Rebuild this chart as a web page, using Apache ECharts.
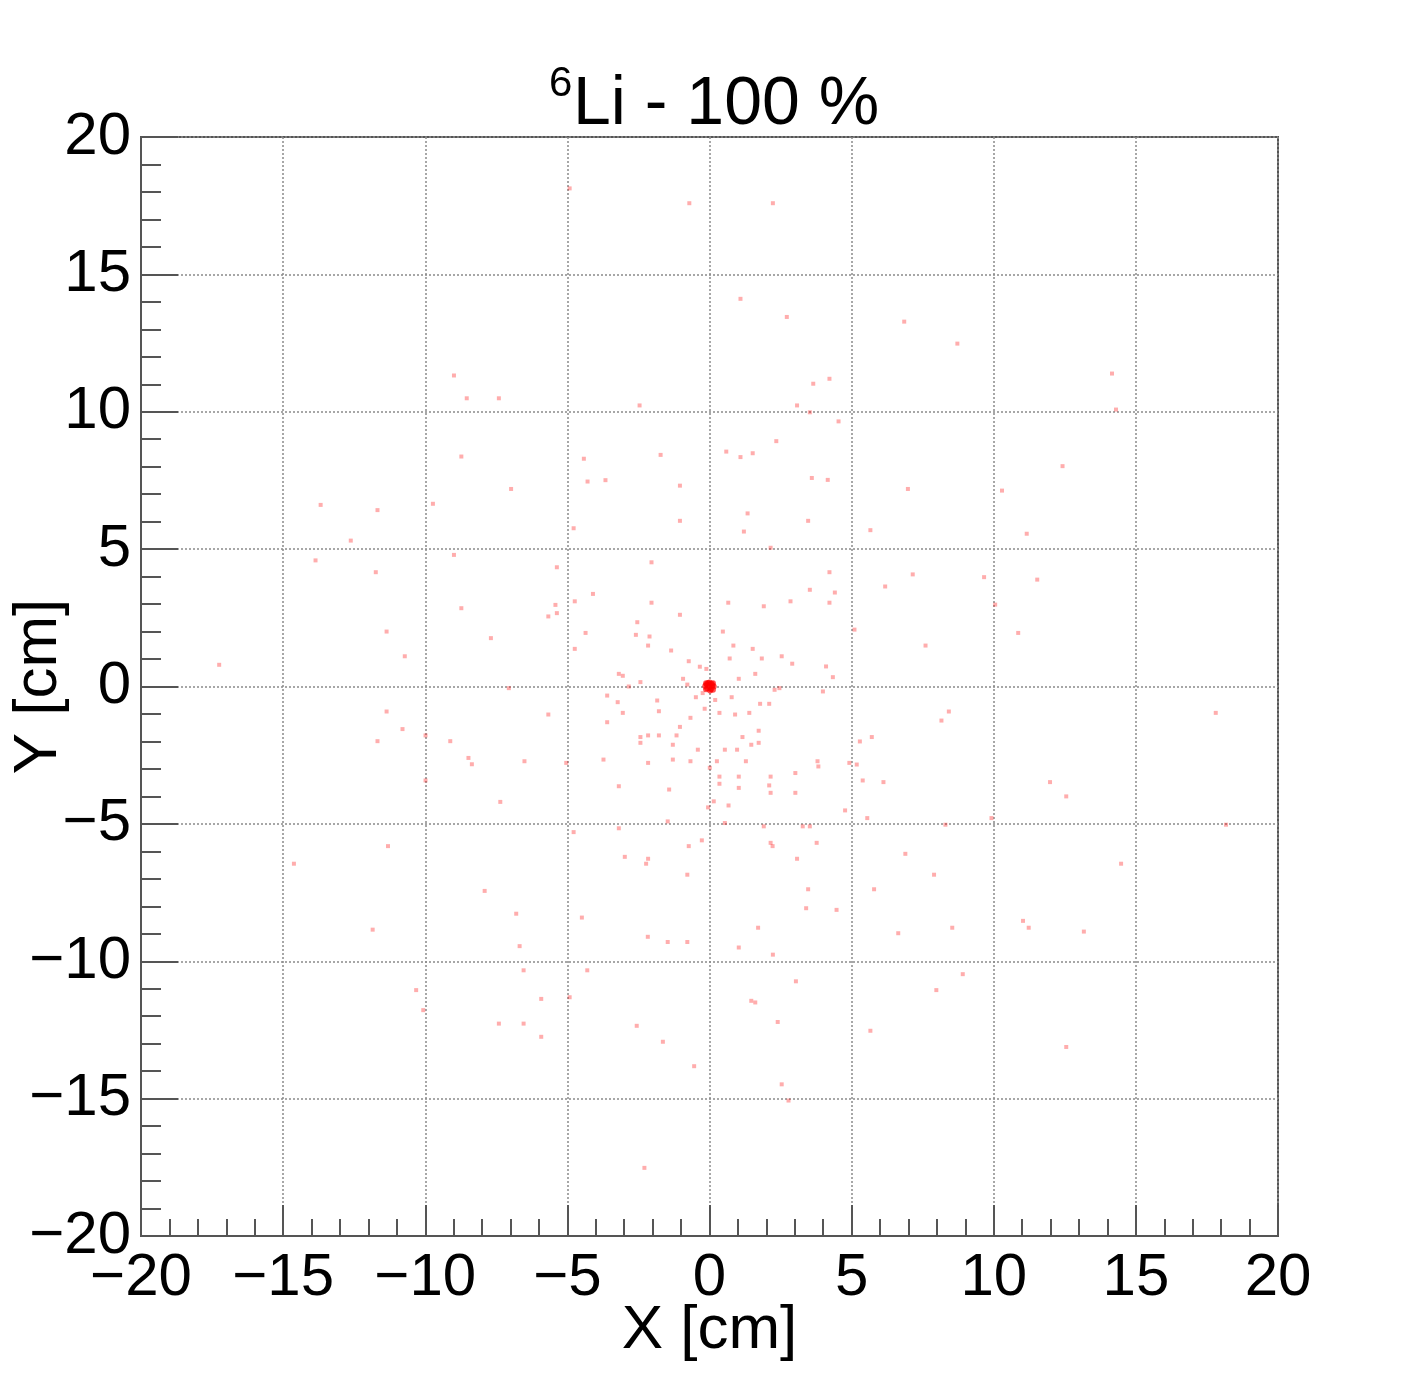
<!DOCTYPE html>
<html>
<head>
<meta charset="utf-8">
<title>6Li - 100 %</title>
<script src="https://cdn.jsdelivr.net/npm/echarts@6/dist/echarts.min.js"></script>
<style>
    html, body { margin: 0; padding: 0; background: #fff; }
    #chart { width: 1420px; height: 1374px; }
</style>
</head>
<body>
<div id="chart"></div>
<script>
// hit positions [x, y] in cm
var hits = [
    [-4.92, 18.13], [-0.71, 17.59], [2.23, 17.59], [1.09, 14.11], [2.72, 13.45],
    [6.85, 13.28], [8.72, 12.48], [-8.99, 11.32], [-8.54, 10.49], [-7.41, 10.49],
    [-2.46, 10.23], [3.08, 10.23], [3.65, 11.02], [4.22, 11.2], [3.53, 9.98],
    [4.54, 9.65], [14.16, 11.39], [14.3, 10.08], [2.35, 8.93], [0.59, 8.55],
    [1.09, 8.35], [1.52, 8.49], [-4.42, 8.29], [-1.72, 8.43], [-8.73, 8.37],
    [12.42, 8.02], [-4.29, 7.46], [-3.66, 7.51], [-1.04, 7.31], [3.6, 7.59],
    [4.16, 7.52], [-6.98, 7.19], [6.98, 7.19], [10.29, 7.13], [-9.73, 6.65],
    [-13.68, 6.61], [-11.68, 6.42], [1.34, 6.3], [3.47, 6.03], [-1.04, 6.03],
    [-4.78, 5.76], [1.21, 5.64], [5.66, 5.69], [11.16, 5.56], [-12.62, 5.31],
    [2.15, 5.05], [-8.99, 4.79], [-13.86, 4.59], [-2.04, 4.52], [-5.37, 4.34],
    [4.22, 4.16], [-11.74, 4.16], [7.15, 4.08], [9.66, 3.98], [11.53, 3.89],
    [6.18, 3.64], [3.53, 3.52], [4.41, 3.42], [-4.1, 3.37], [-4.74, 3.1],
    [-5.42, 2.97], [-2.04, 3.05], [0.66, 3.05], [1.91, 2.92], [2.85, 3.1],
    [4.22, 3.05], [10.05, 2.98], [-8.73, 2.85], [-5.37, 2.67], [-5.67, 2.55],
    [-1.04, 2.61], [-2.54, 2.34], [5.1, 2.07], [0.47, 2.0], [-11.36, 2.0],
    [10.86, 1.95], [-2.59, 1.88], [-2.11, 1.82], [-4.36, 1.95], [-7.69, 1.76],
    [-2.16, 1.49], [0.84, 1.49], [7.6, 1.49], [1.52, 1.37], [-4.74, 1.37],
    [-1.35, 1.31], [-10.72, 1.1], [0.71, 1.02], [1.84, 1.02], [2.54, 1.1],
    [2.91, 0.83], [-0.73, 0.92], [-17.25, 0.79], [-0.34, 0.72], [-0.11, 0.64],
    [1.61, 0.46], [4.1, 0.73], [4.34, 0.34], [-3.19, 0.46], [-3.05, 0.39],
    [-2.43, 0.16], [-0.93, 0.28], [1.03, 0.28], [-0.78, 0.07], [-2.84, 0.0],
    [-7.06, -0.06], [2.46, -0.06], [2.29, -0.12], [3.99, -0.18], [-0.24, -0.24],
    [-0.48, -0.39], [0.2, -0.49], [0.78, -0.39], [-3.6, -0.33], [-3.23, -0.57],
    [-1.84, -0.51], [-0.17, -0.81], [1.78, -0.63], [2.1, -0.63], [-3.05, -0.96],
    [-1.78, -0.9], [0.35, -0.96], [0.9, -1.02], [1.4, -0.96], [-5.67, -1.02],
    [-11.36, -0.91], [8.42, -0.91], [8.16, -1.24], [17.81, -0.96], [-0.67, -1.14],
    [-3.6, -1.3], [-1.04, -1.47], [-10.8, -1.55], [1.73, -1.61], [1.16, -1.84],
    [1.47, -2.12], [1.73, -2.05], [-2.43, -1.84], [-2.16, -1.78], [-1.78, -1.78],
    [-1.16, -1.78], [-9.99, -1.78], [-11.68, -1.99], [-9.12, -1.99], [-2.43, -2.05],
    [-1.29, -2.12], [-0.41, -2.3], [0.54, -2.3], [0.97, -2.3], [5.29, -2.0],
    [5.71, -1.84], [-8.48, -2.6], [-8.36, -2.83], [-3.73, -2.66], [-1.29, -2.66],
    [-0.67, -2.72], [0.26, -2.72], [1.28, -2.72], [-2.16, -2.78], [-5.04, -2.78],
    [-6.51, -2.72], [3.8, -2.72], [3.83, -2.91], [4.92, -2.78], [5.18, -2.84],
    [0.01, -2.96], [0.35, -3.28], [1.03, -3.28], [2.15, -3.28], [3.02, -3.15],
    [-9.99, -3.42], [0.35, -3.54], [1.03, -3.69], [2.1, -3.6], [5.39, -3.42],
    [6.12, -3.48], [11.98, -3.48], [-3.19, -3.63], [-1.42, -3.75], [2.15, -3.87],
    [3.02, -3.87], [12.55, -4.0], [-7.36, -4.2], [0.15, -4.18], [0.67, -4.33],
    [-0.05, -4.4], [4.77, -4.51], [5.55, -4.79], [9.92, -4.79], [-1.47, -4.91],
    [0.54, -4.97], [1.91, -5.09], [3.28, -5.09], [3.53, -5.09], [8.3, -5.03],
    [18.17, -5.03], [-3.19, -5.16], [-4.78, -5.3], [-0.27, -5.6], [-0.73, -5.81],
    [2.15, -5.69], [2.22, -5.81], [3.77, -5.69], [-11.31, -5.81], [6.89, -6.09],
    [-2.98, -6.2], [-2.16, -6.27], [-2.23, -6.45], [3.08, -6.27], [-14.62, -6.45],
    [14.48, -6.45], [-0.78, -6.85], [7.9, -6.85], [3.47, -7.38], [5.79, -7.38],
    [-7.91, -7.44], [3.4, -8.07], [4.47, -8.13], [-6.8, -8.27], [-4.49, -8.41],
    [11.03, -8.53], [1.71, -8.78], [8.54, -8.78], [11.23, -8.78], [-11.85, -8.85],
    [6.64, -8.98], [13.17, -8.92], [-2.17, -9.11], [-1.47, -9.3], [-0.78, -9.3],
    [-6.68, -9.45], [1.03, -9.5], [2.23, -9.76], [-6.54, -10.33], [-4.3, -10.33],
    [8.91, -10.47], [3.04, -10.73], [-10.32, -11.05], [7.98, -11.05], [-5.92, -11.37],
    [-4.92, -11.31], [1.47, -11.44], [1.61, -11.5], [-10.07, -11.78], [-7.41, -12.27],
    [-6.54, -12.27], [-2.56, -12.35], [2.4, -12.21], [5.66, -12.53], [-5.92, -12.75],
    [-1.64, -12.93], [12.55, -13.12], [-0.54, -13.82], [2.54, -14.48], [2.78, -15.07],
    [-2.29, -17.52]
];

// the dense spot of hits right at the origin
var originHits = [
    [0, 0], [0.1, 0.05], [-0.1, 0.08], [0.05, -0.1], [-0.08, -0.06],
    [0.15, 0.0], [-0.15, 0.02], [0.0, 0.15], [0.02, -0.15], [0.12, 0.12],
    [-0.12, 0.12], [0.12, -0.12], [-0.12, -0.1], [0.07, 0.1], [-0.05, 0.13]
];

var axisTicks = { min: -20, max: 20, interval: 5 };

function rootMinus(v) {
    return String(v).replace('-', '\u2212');
}

var chart = echarts.init(document.getElementById('chart'));

var font = 'Liberation Sans, Arial, Helvetica, sans-serif';

function axisBase(name) {
    return {
        type: 'value',
        min: axisTicks.min,
        max: axisTicks.max,
        interval: axisTicks.interval,
        name: name,
        nameLocation: 'middle',
        nameMoveOverlap: false,
        nameTextStyle: { fontFamily: font, fontSize: 62, color: '#000' },
        axisLine: { show: true, onZero: false, lineStyle: { color: '#555', width: 2 } },
        axisTick: { show: true, inside: true, lineStyle: { color: '#555', width: 2 } },
        minorTick: { show: true, splitNumber: 5, lineStyle: { color: '#555', width: 2 } },
        splitLine: { show: true, lineStyle: { color: '#8a8a8a', width: 1.5, type: [2, 2] } },
        axisLabel: {
            fontFamily: font,
            fontSize: 60,
            color: '#000',
            formatter: rootMinus
        }
    };
}

var xAxis = axisBase('X [cm]');
xAxis.nameGap = 64;
xAxis.axisTick.length = 31;
xAxis.minorTick.length = 17;
xAxis.axisLabel.margin = 12;

var yAxis = axisBase('Y [cm]');
yAxis.nameGap = 71;
yAxis.axisTick.length = 37;
yAxis.minorTick.length = 20;
yAxis.axisLabel.margin = 10;

var option = {
    backgroundColor: '#fff',
    animation: false,
    title: [
        {
            text: '6',
            left: 544,
            top: 58,
            textStyle: { fontFamily: font, fontSize: 42, fontWeight: 'normal', color: '#000' }
        },
        {
            text: 'Li - 100 %',
            left: 568,
            top: 66,
            textStyle: { fontFamily: font, fontSize: 68, fontWeight: 'normal', color: '#000' }
        }
    ],
    grid: {
        left: 141,
        right: 142,
        top: 137,
        bottom: 138,
        containLabel: false,
        outerBoundsMode: 'none',
        show: true,
        borderColor: '#555',
        borderWidth: 2,
        backgroundColor: 'transparent'
    },
    xAxis: xAxis,
    yAxis: yAxis,
    series: [
        {
            name: 'hits',
            type: 'scatter',
            symbol: 'rect',
            symbolSize: 4,
            itemStyle: { color: 'rgba(255, 0, 0, 0.4)' },
            data: hits
        },
        {
            name: 'origin',
            type: 'scatter',
            symbol: 'circle',
            symbolSize: 6,
            itemStyle: { color: 'rgba(255, 0, 0, 0.85)' },
            data: originHits
        }
    ]
};

chart.setOption(option);
</script>
</body>
</html>
